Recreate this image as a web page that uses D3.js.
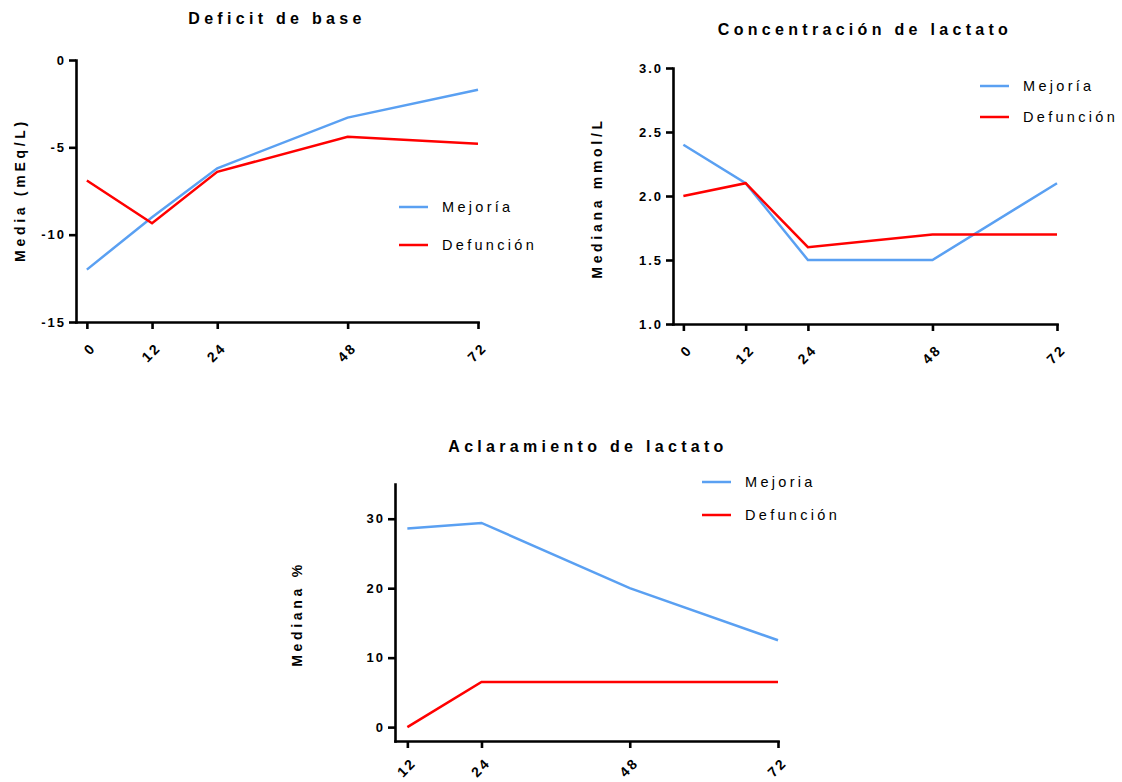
<!DOCTYPE html>
<html>
<head>
<meta charset="utf-8">
<script src="https://cdn.jsdelivr.net/npm/d3@7"></script>
<style>
  body { margin: 0; background: #fff; }
  svg text { font-family: "Liberation Sans", Arial, sans-serif; fill: #000; }
  .tick text { font-weight: bold; font-size: 13px; letter-spacing: 2px; }
  .x-axis .tick text { font-size: 14px; letter-spacing: 2.4px; }
  .domain, .tick line { stroke: #000; stroke-width: 2.6px; }
</style>
</head>
<body>
<div id="chart"></div>
<script>
// Data
const hoursAB = [0, 12, 24, 48, 72];
const hoursC = [12, 24, 48, 72];

const baseMejoria = [-12.0, -9.0, -6.2, -3.3, -1.7];
const baseDefuncion = [-6.9, -9.35, -6.4, -4.4, -4.8];
const baseTicks = [0, -5, -10, -15];

const lactMejoria = [2.4, 2.1, 1.5, 1.5, 2.1];
const lactDefuncion = [2.0, 2.1, 1.6, 1.7, 1.7];
const lactTicks = [1.0, 1.5, 2.0, 2.5, 3.0];

const clearMejoria = [28.6, 29.4, 20.0, 12.5];
const clearDefuncion = [0, 6.5, 6.5, 6.5];
const clearTicks = [0, 10, 20, 30];

const blue = "#5aa0f2";
const red = "#ff0000";

const svg = d3
  .select("#chart")
  .append("svg")
  .attr("width", 1122)
  .attr("height", 782);

function drawChart(cfg) {
  const xScale = d3.scaleLinear().domain(cfg.xDomain).range(cfg.xRange);
  const yScale = d3.scaleLinear().domain(cfg.yDomain).range(cfg.yRange);

  // Title
  svg
    .append("text")
    .attr("x", cfg.title[1])
    .attr("y", cfg.title[2])
    .attr("text-anchor", "middle")
    .style("font-weight", "bold")
    .style("font-size", "16px")
    .style("letter-spacing", "4.3px")
    .text(cfg.title[0]);

  // Y label
  svg
    .append("text")
    .attr("transform", `translate(${cfg.yLabel[1]}, ${cfg.yLabel[2]}) rotate(-90)`)
    .attr("text-anchor", "middle")
    .attr("dy", "0.35em")
    .style("font-weight", "bold")
    .style("font-size", "14px")
    .style("letter-spacing", "3.7px")
    .text(cfg.yLabel[0]);

  // Axes
  const yAxis = d3
    .axisLeft(yScale)
    .tickValues(cfg.yTicks)
    .tickSize(7)
    .tickSizeOuter(0)
    .tickPadding(3)
    .tickFormat(cfg.yFormat);

  svg
    .append("g")
    .attr("transform", `translate(${cfg.xRange[0]},0)`)
    .call(yAxis);

  const xAxis = d3
    .axisBottom(xScale)
    .tickValues(cfg.hours)
    .tickSize(7)
    .tickSizeOuter(0);

  const xAxisGroup = svg
    .append("g")
    .attr("class", "x-axis")
    .attr("transform", `translate(0,${cfg.yRange[0]})`)
    .call(xAxis);

  xAxisGroup
    .selectAll(".tick text")
    .attr("y", 0)
    .attr("dy", "0.35em")
    .attr("text-anchor", "end")
    .attr("transform", `translate(6,${cfg.labelDrop}) rotate(-45)`);

  svg.selectAll(".domain").attr("stroke-linecap", "square");

  // Lines
  const line = d3
    .line()
    .x((d, i) => xScale(cfg.hours[i]))
    .y((d) => yScale(d));

  cfg.series.forEach((s) => {
    svg
      .append("path")
      .datum(s.values)
      .attr("d", line)
      .attr("fill", "none")
      .attr("stroke", s.color)
      .attr("stroke-width", 2.5);
  });

  // Legend
  cfg.series.forEach((s, i) => {
    const ly = cfg.legend[1] + i * cfg.legend[2];
    svg
      .append("line")
      .attr("x1", cfg.legend[0])
      .attr("x2", cfg.legend[0] + 29)
      .attr("y1", ly)
      .attr("y2", ly)
      .attr("stroke", s.color)
      .attr("stroke-width", 2.5);
    svg
      .append("text")
      .attr("x", cfg.legend[0] + 43)
      .attr("y", ly)
      .attr("dy", "0.35em")
      .style("font-size", "14.5px")
      .style("letter-spacing", "3.3px")
      .text(s.name);
  });
}

const intFormat = (d) => String(d);

drawChart({
  title: ["Deficit de base", 277, 24],
  yLabel: ["Media (mEq/L)", 20, 190],
  hours: hoursAB,
  xDomain: [-2, 72],
  xRange: [76, 478],
  yDomain: [-15, 0],
  yRange: [322, 60],
  yTicks: baseTicks,
  yFormat: intFormat,
  labelDrop: 23,
  legend: [399, 207, 38],
  series: [
    { name: "Mejoría", values: baseMejoria, color: blue },
    { name: "Defunción", values: baseDefuncion, color: red },
  ],
});

drawChart({
  title: ["Concentración de lactato", 865, 35],
  yLabel: ["Mediana mmol/L", 597, 198],
  hours: hoursAB,
  xDomain: [-2, 72],
  xRange: [673, 1057],
  yDomain: [1, 3],
  yRange: [324, 68],
  yTicks: lactTicks,
  yFormat: d3.format(".1f"),
  labelDrop: 23,
  legend: [980, 86, 31],
  series: [
    { name: "Mejoría", values: lactMejoria, color: blue },
    { name: "Defunción", values: lactDefuncion, color: red },
  ],
});

drawChart({
  title: ["Aclaramiento de lactato", 588, 452],
  yLabel: ["Mediana %", 297, 614],
  hours: hoursC,
  xDomain: [10, 72],
  xRange: [395, 778],
  yDomain: [-2, 35],
  yRange: [741, 484],
  yTicks: clearTicks,
  yFormat: intFormat,
  labelDrop: 19,
  legend: [702, 482, 33],
  series: [
    { name: "Mejoria", values: clearMejoria, color: blue },
    { name: "Defunción", values: clearDefuncion, color: red },
  ],
});
</script>
</body>
</html>
